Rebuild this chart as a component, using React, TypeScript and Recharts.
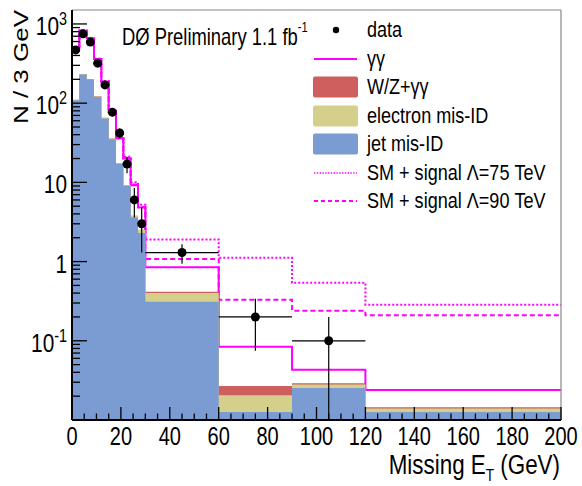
import { ComposedChart, Area, Line, Scatter, ErrorBar, XAxis, YAxis, Legend, ReferenceLine } from 'recharts';

const FONT = "'Liberation Sans', Arial, sans-serif";
const SQUEEZE = 0.8; // the original text is narrower than Arial

// histogram bin edges (GeV), last edge closes the 120-200 bin
const binEdges = [0, 3, 6, 9, 12, 15, 18, 21, 24, 27, 30, 60, 90, 120, 200];

// background components, N / 3 GeV per bin (stacked: jet, electron, W/Z)
const jetMisId = [109, 230, 200, 120, 64, 35, 17, 9.0, 3.6, 2.3, 0.31, 0.0126, 0.0254, 0.0126];
const electronMisId = [1.0, 2.0, 2.0, 1.5, 1.0, 0.6, 0.4, 0.2, 0.15, 0.2, 0.09, 0.008, 0.0026, 0.0014];
const wzGammaGamma = [0.3, 0.5, 0.5, 0.4, 0.3, 0.2, 0.1, 0.05, 0.04, 0.03, 0.015, 0.0063, 0.001, 0.0005];

// total SM (gamma gamma) and SM + signal curves
const smTotal = [490, 820, 660, 360, 186, 78, 36, 20, 9.2, 4.8, 0.85, 0.084, 0.043, 0.024];
const signal75 = [495, 825, 665, 365, 190, 80, 37, 21, 10, 5.2, 1.9, 1.12, 0.54, 0.285];
const signal90 = [490, 820, 660, 360, 187, 79, 36, 20, 9.4, 4.9, 1.08, 0.33, 0.24, 0.21];

// data points
const dataX = [1.5, 4.5, 7.5, 10.5, 13.5, 16.5, 19.5, 22.5, 25.5, 28.5, 45, 75, 105];
const dataY = [470, 750, 590, 320, 170, 77, 42, 17, 6, 3, 1.3, 0.2, 0.1];
const dataLow = [448, 723, 566, 302, 157, 68, 36, 13, 3.6, 1.3, 0.94, 0.075, 0.0101];
const dataHigh = [492, 777, 614, 338, 183, 86, 48, 21, 8.5, 4.8, 1.66, 0.34, 0.2];
const dataHalfWidth = [1.5, 1.5, 1.5, 1.5, 1.5, 1.5, 1.5, 1.5, 1.5, 1.5, 15, 15, 15];

// axis ticks
const xTicks = [0, 5, 10, 15, 20, 25, 30, 35, 40, 45, 50, 55, 60, 65, 70, 75, 80, 85, 90, 95, 100,
  105, 110, 115, 120, 125, 130, 135, 140, 145, 150, 155, 160, 165, 170, 175, 180, 185, 190, 195, 200];
const xMajorTicks = [0, 20, 40, 60, 80, 100, 120, 140, 160, 180, 200];
const yMajorTicks = [0.1, 1, 10, 100, 1000];
const yTickBase = ['10', '1', '10', '10', '10'];
const yTickExp = ['-1', '', '', '2', '3'];
const yMinorTicks = [0.02, 0.03, 0.04, 0.05, 0.06, 0.07, 0.08, 0.09,
  0.2, 0.3, 0.4, 0.5, 0.6, 0.7, 0.8, 0.9,
  2, 3, 4, 5, 6, 7, 8, 9,
  20, 30, 40, 50, 60, 70, 80, 90,
  200, 300, 400, 500, 600, 700, 800, 900];

const legendItems = [
  { label: 'data', kind: 'dot' },
  { label: 'γγ', kind: 'solid' },
  { label: 'W/Z+γγ', kind: 'box', color: '#cf5f5f' },
  { label: 'electron mis-ID', kind: 'box', color: '#d5cf8c' },
  { label: 'jet mis-ID', kind: 'box', color: '#7b9bd3' },
  { label: 'SM + signal Λ=75 TeV', kind: 'dotted' },
  { label: 'SM + signal Λ=90 TeV', kind: 'dashed' },
];

const stepRows = binEdges.map((x, i) => {
  const k = Math.min(i, jetMisId.length - 1);
  const jet = jetMisId[k];
  const ele = jet + electronMisId[k];
  const wz = ele + wzGammaGamma[k];
  return { x, jet, ele, wz, sm: smTotal[k], s75: signal75[k], s90: signal90[k] };
});

const points = dataX.map((x, i) => ({
  x,
  y: dataY[i],
  ey: [dataY[i] - dataLow[i], dataHigh[i] - dataY[i]],
  ex: dataHalfWidth[i],
}));

const SqText = ({ x, y, size, anchor = 'start', sx = SQUEEZE, children }: any) => (
  <text transform={`translate(${x} ${y}) scale(${sx} 1)`} x={0} y={0} textAnchor={anchor}
    fontSize={size} fontFamily={FONT} fill="#000">
    {children}
  </text>
);

const XTick = ({ x, y, payload }: any) => {
  const major = xMajorTicks.includes(payload.value);
  return (
    <g>
      <line x1={x} x2={x} y1={y} y2={y - (major ? 13 : 6.5)} stroke="#000" strokeWidth={1.3} />
      {major && <SqText x={x} y={y + 25} size={25} anchor="middle">{payload.value}</SqText>}
    </g>
  );
};

const YTick = ({ x, y, payload }: any) => {
  const idx = yMajorTicks.indexOf(payload.value);
  const major = idx >= 0;
  return (
    <g>
      <line x1={x} x2={x + (major ? 15 : 8)} y1={y} y2={y} stroke="#000" strokeWidth={1.3} />
      {major && (
        <SqText x={x - 5} y={y + 11} size={26} anchor="end">
          {yTickBase[idx]}
          {yTickExp[idx] && <tspan dy={-10} fontSize={18}>{yTickExp[idx]}</tspan>}
        </SqText>
      )}
    </g>
  );
};

const XTitle = ({ viewBox }: any) => (
  <SqText x={viewBox.x + viewBox.width - 1} y={viewBox.y + 54} size={28} anchor="end">
    Missing E<tspan dy={7} fontSize={17}>T</tspan><tspan dy={-7}> (GeV)</tspan>
  </SqText>
);

const YTitle = () => (
  <text transform={`translate(28 10) rotate(-90) scale(1 ${SQUEEZE})`} x={0} y={0} textAnchor="end"
    fontSize={26} fontFamily={FONT} fill="#000">
    N / 3 GeV
  </text>
);

const LegendIcon = ({ item }: any) => (
  <svg width={45} height={22} style={{ display: 'block', flex: 'none' }}>
    {item.kind === 'dot' && <circle cx={23} cy={11} r={3.2} fill="#000" />}
    {item.kind === 'solid' && <line x1={1} x2={44} y1={11} y2={11} stroke="#ff00ff" strokeWidth={2} />}
    {item.kind === 'box' && <rect x={0} y={0.5} width={45} height={21} rx={2} fill={item.color} />}
    {item.kind === 'dotted' && <line x1={1} x2={44} y1={11} y2={11} stroke="#ff00ff" strokeWidth={1.6} strokeDasharray="1.4 1.4" />}
    {item.kind === 'dashed' && <line x1={1} x2={44} y1={11} y2={11} stroke="#ff00ff" strokeWidth={1.8} strokeDasharray="4 3" />}
  </svg>
);

const LegendBox = () => (
  <div style={{ fontFamily: FONT, fontSize: 22, color: '#000' }}>
    {legendItems.map((item) => (
      <div key={item.label} style={{ display: 'flex', alignItems: 'center', height: 28.5 }}>
        <LegendIcon item={item} />
        <span style={{ marginLeft: 9, whiteSpace: 'nowrap', display: 'inline-block', transform: 'scaleX(0.82)', transformOrigin: 'left center' }}>
          {item.label}
        </span>
      </div>
    ))}
  </div>
);

export default function App() {
  return (
    <div style={{ position: 'relative', width: 582, height: 486, background: '#fff' }}>
      <style>{'body { margin: 0; }'}</style>
      <ComposedChart width={582} height={486} margin={{ top: 10, right: 21, bottom: 0, left: 0 }}>
        <Line data={stepRows} dataKey="s75" type="stepAfter" stroke="#ff00ff" strokeWidth={2} strokeDasharray="2 2"
          dot={false} isAnimationActive={false} zIndex={50} />
        <Line data={stepRows} dataKey="s90" type="stepAfter" stroke="#ff00ff" strokeWidth={2} strokeDasharray="5 3"
          dot={false} isAnimationActive={false} zIndex={50} />
        <Line data={stepRows} dataKey="sm" type="stepAfter" stroke="#ff00ff" strokeWidth={2}
          dot={false} isAnimationActive={false} zIndex={50} />
        <Area data={stepRows} dataKey="wz" type="stepAfter" baseValue={0.01} fill="#cf5f5f" fillOpacity={1}
          stroke="none" isAnimationActive={false} />
        <Area data={stepRows} dataKey="ele" type="stepAfter" baseValue={0.01} fill="#d5cf8c" fillOpacity={1}
          stroke="none" isAnimationActive={false} />
        <Area data={stepRows} dataKey="jet" type="stepAfter" baseValue={0.01} fill="#7b9bd3" fillOpacity={1}
          stroke="none" isAnimationActive={false} />
        <Scatter data={points} dataKey="y" isAnimationActive={false}
          shape={(p: any) => <circle cx={p.cx} cy={p.cy} r={4.5} fill="#000" />}>
          <ErrorBar dataKey="ey" direction="y" width={0} stroke="#000" strokeWidth={1.2} />
          <ErrorBar dataKey="ex" direction="x" width={0} stroke="#000" strokeWidth={1.2} />
        </Scatter>
        <ReferenceLine y={1500} stroke="#888" strokeWidth={1.2} />
        <ReferenceLine x={200} stroke="#888" strokeWidth={1.2} />
        <XAxis type="number" dataKey="x" domain={[0, 200]} allowDataOverflow ticks={xTicks} interval={0}
          tick={<XTick />} tickLine={false} tickSize={0} tickMargin={0} height={66}
          axisLine={{ stroke: '#000', strokeWidth: 2 }} label={<XTitle />} />
        <YAxis type="number" scale="log" domain={[0.01, 1500]} allowDataOverflow ticks={[...yMinorTicks, ...yMajorTicks]}
          interval={0} tick={<YTick />} tickLine={false} tickSize={0} tickMargin={0} width={72}
          axisLine={{ stroke: '#000', strokeWidth: 2 }} label={<YTitle />} />
        <Legend layout="vertical" align="center" verticalAlign="middle"
          wrapperStyle={{ top: 16, left: 313, width: 260, height: 200 }} content={() => <LegendBox />} />
      </ComposedChart>
      <svg width={582} height={486} style={{ position: 'absolute', left: 0, top: 0, pointerEvents: 'none' }}>
        <SqText x={122} y={45} size={23} sx={0.8}>
          DØ Preliminary 1.1 fb<tspan dy={-13} fontSize={14}>-1</tspan>
        </SqText>
      </svg>
    </div>
  );
}
